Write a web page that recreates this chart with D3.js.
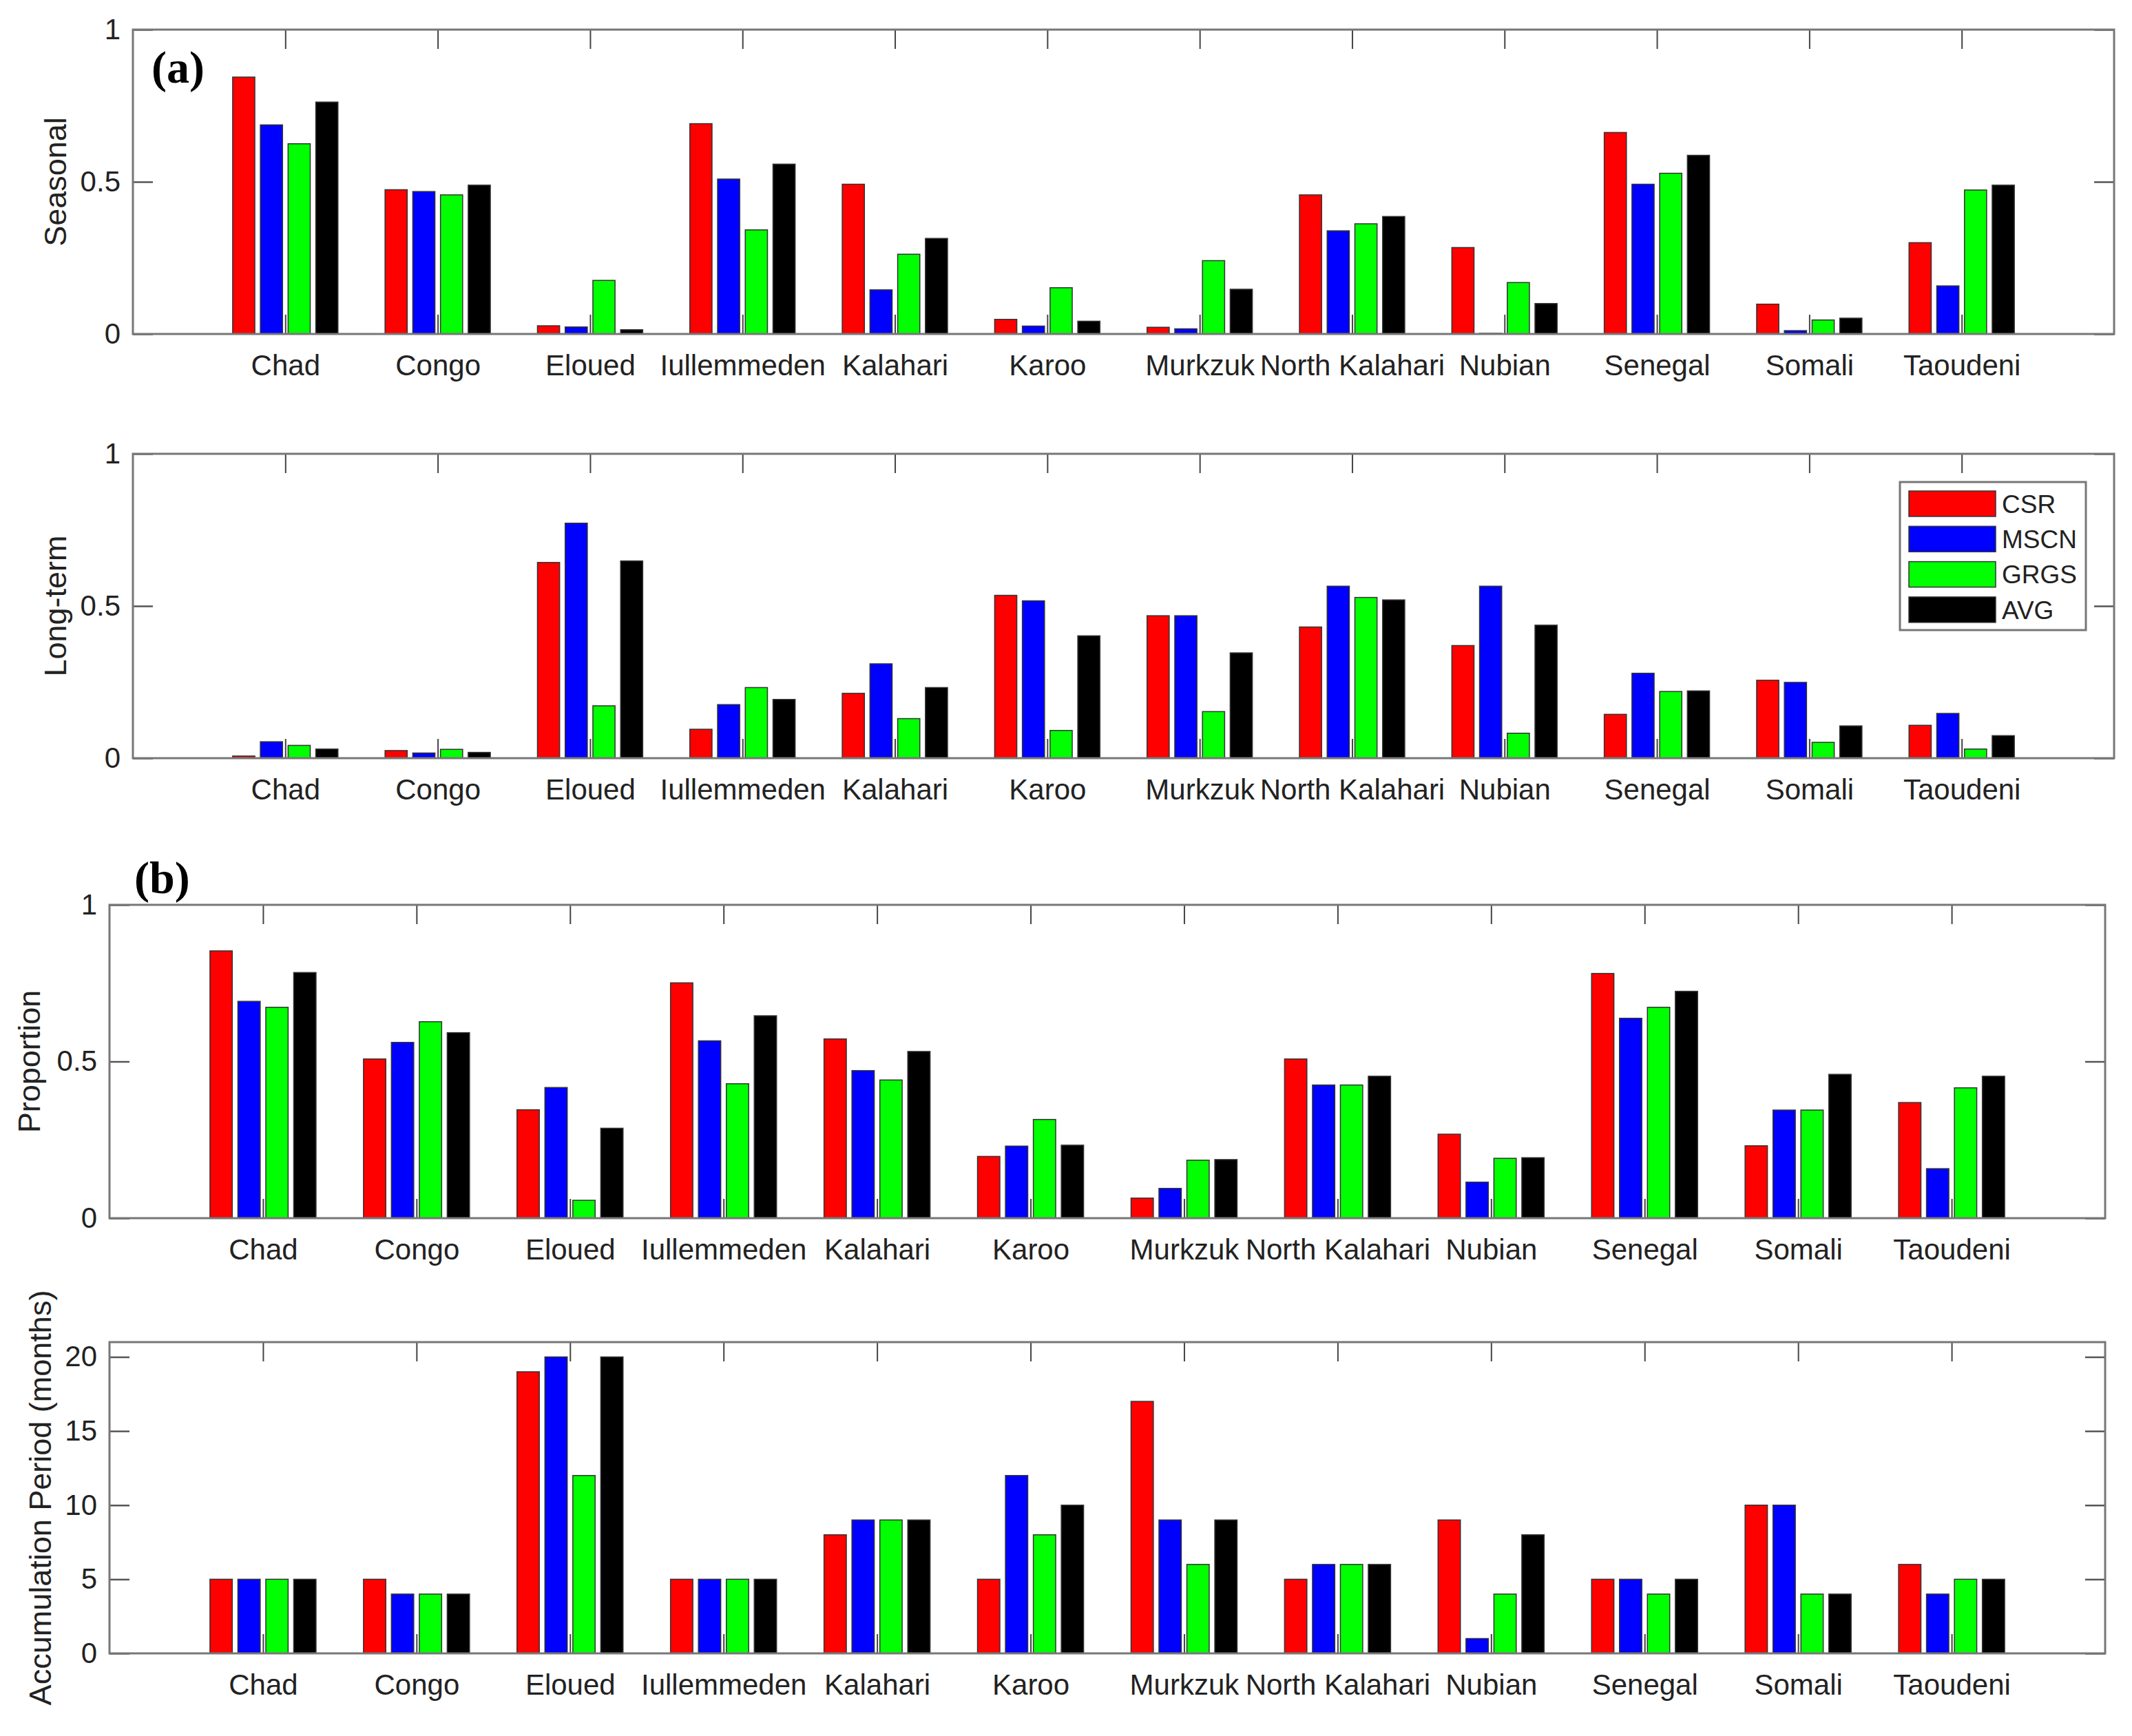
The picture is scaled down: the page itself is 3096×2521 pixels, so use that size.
<!DOCTYPE html>
<html>
<head>
<meta charset="utf-8">
<script src="https://cdn.jsdelivr.net/npm/d3@7"></script>
<style>
  body { margin: 0; background: #fff; }
  svg { display: block; }
  .tick text { font-family: "Liberation Sans", Arial, sans-serif; fill: #222; }
</style>
</head>
<body>
<div id="chart"></div>
<script>
var basins = ["Chad", "Congo", "Eloued", "Iullemmeden", "Kalahari", "Karoo",
              "Murkzuk", "North Kalahari", "Nubian", "Senegal", "Somali", "Taoudeni"];
var series = ["CSR", "MSCN", "GRGS", "AVG"];
var colors = ["#ff0000", "#0000ff", "#00ff00", "#000000"];

// (a) seasonal
var seasonalCSR  = [0.844, 0.474, 0.027, 0.691, 0.492, 0.048, 0.022, 0.457, 0.284, 0.662, 0.098, 0.300];
var seasonalMSCN = [0.687, 0.468, 0.023, 0.509, 0.145, 0.026, 0.017, 0.339, 0.002, 0.492, 0.011, 0.158];
var seasonalGRGS = [0.625, 0.457, 0.176, 0.342, 0.262, 0.152, 0.241, 0.362, 0.169, 0.528, 0.046, 0.473];
var seasonalAVG  = [0.762, 0.489, 0.014, 0.558, 0.314, 0.042, 0.147, 0.386, 0.100, 0.587, 0.052, 0.489];

// (a) long-term
var longCSR  = [0.007, 0.025, 0.643, 0.095, 0.213, 0.535, 0.468, 0.431, 0.370, 0.144, 0.256, 0.108];
var longMSCN = [0.054, 0.017, 0.772, 0.176, 0.310, 0.517, 0.468, 0.565, 0.565, 0.279, 0.249, 0.147];
var longGRGS = [0.042, 0.029, 0.172, 0.232, 0.130, 0.091, 0.153, 0.528, 0.082, 0.219, 0.052, 0.030];
var longAVG  = [0.030, 0.019, 0.648, 0.193, 0.232, 0.402, 0.346, 0.520, 0.437, 0.221, 0.106, 0.074];

// (b) proportion
var propCSR  = [0.853, 0.508, 0.346, 0.751, 0.572, 0.197, 0.064, 0.508, 0.268, 0.781, 0.231, 0.369];
var propMSCN = [0.692, 0.561, 0.417, 0.566, 0.471, 0.230, 0.095, 0.425, 0.115, 0.638, 0.345, 0.158];
var propGRGS = [0.673, 0.627, 0.057, 0.429, 0.441, 0.315, 0.185, 0.425, 0.191, 0.673, 0.345, 0.416];
var propAVG  = [0.784, 0.592, 0.287, 0.646, 0.532, 0.233, 0.187, 0.453, 0.193, 0.724, 0.459, 0.453];

// (b) accumulation period (months)
var accCSR  = [5, 5, 19, 5, 8, 5, 17, 5, 9, 5, 10, 6];
var accMSCN = [5, 4, 20, 5, 9, 12, 9, 6, 1, 5, 10, 4];
var accGRGS = [5, 4, 12, 5, 9, 8, 6, 6, 4, 4, 4, 5];
var accAVG  = [5, 4, 20, 5, 9, 10, 9, 6, 8, 5, 4, 5];

var unitTicks = [0, 0.5, 1];
var monthTicks = [0, 5, 10, 15, 20];

var W = 3096, H = 2521;
var svg = d3.select("#chart").append("svg")
    .attr("width", W)
    .attr("height", H);
svg.append("rect").attr("width", W).attr("height", H).attr("fill", "#fff");

var panels = [
    {left: 193, right: 3070, top: 43,   bottom: 485,  ymax: 1,  ticks: unitTicks,  label: "Seasonal",   labelX: 80,
     values: [seasonalCSR, seasonalMSCN, seasonalGRGS, seasonalAVG]},
    {left: 193, right: 3070, top: 659,  bottom: 1101, ymax: 1,  ticks: unitTicks,  label: "Long-term",  labelX: 80,
     values: [longCSR, longMSCN, longGRGS, longAVG], legend: true},
    {left: 159, right: 3057, top: 1314, bottom: 1769, ymax: 1,  ticks: unitTicks,  label: "Proportion", labelX: 42,
     values: [propCSR, propMSCN, propGRGS, propAVG]},
    {left: 159, right: 3057, top: 1949, bottom: 2401, ymax: 21, ticks: monthTicks, label: "Accumulation Period (months)", labelX: 58,
     values: [accCSR, accMSCN, accGRGS, accAVG]}
];

// grouped bar geometry (matlab style)
var nb = series.length;
var groupWidth = Math.min(0.8, nb / (nb + 1.5));
var pitch = groupWidth / nb;
var barW = pitch * 0.8;
var idx = d3.range(1, basins.length + 1);

panels.forEach(drawPanel);

function drawPanel(p) {
    var x = d3.scaleLinear().domain([0, 13]).range([p.left, p.right]);
    var y = d3.scaleLinear().domain([0, p.ymax]).range([p.bottom, p.top]);
    var g = svg.append("g");

    // x axis first so bars sit over the inner ticks
    var xa = g.append("g")
        .attr("transform", "translate(0," + p.bottom + ")")
        .call(d3.axisBottom(x).tickValues(idx).tickSize(-28).tickPadding(30)
              .tickFormat(function (i) { return basins[i - 1]; }));
    xa.select(".domain").remove();
    xa.selectAll(".tick line").attr("stroke", "#444").attr("stroke-width", 2);
    xa.selectAll(".tick text").attr("font-size", 42);

    series.forEach(function (s, j) {
        g.append("g").selectAll("rect")
            .data(p.values[j])
            .join("rect")
            .attr("x", function (d, i) { return x(i + 1 + (j - 1.5) * pitch - barW / 2); })
            .attr("width", x(barW) - x(0))
            .attr("y", function (d) { return y(d); })
            .attr("height", function (d) { return y(0) - y(d); })
            .attr("fill", colors[j])
            .attr("stroke", "#333")
            .attr("stroke-width", 1.5);
    });

    var top = g.append("g")
        .attr("transform", "translate(0," + p.top + ")")
        .call(d3.axisTop(x).tickValues(idx).tickSize(-28).tickFormat(""));
    top.select(".domain").remove();
    top.selectAll(".tick line").attr("stroke", "#444").attr("stroke-width", 2);

    var ya = g.append("g")
        .attr("transform", "translate(" + p.left + ",0)")
        .call(d3.axisLeft(y).tickValues(p.ticks).tickSize(-29).tickPadding(18)
              .tickFormat(function (d) { return String(d); }));
    ya.select(".domain").remove();
    ya.selectAll(".tick line").attr("stroke", "#555").attr("stroke-width", 2.5);
    ya.selectAll(".tick text").attr("font-size", 42);

    var yr = g.append("g")
        .attr("transform", "translate(" + p.right + ",0)")
        .call(d3.axisRight(y).tickValues(p.ticks).tickSize(-29).tickFormat(""));
    yr.select(".domain").remove();
    yr.selectAll(".tick line").attr("stroke", "#555").attr("stroke-width", 2.5);

    // box
    g.append("rect")
        .attr("x", p.left).attr("y", p.top)
        .attr("width", p.right - p.left).attr("height", p.bottom - p.top)
        .attr("fill", "none")
        .attr("stroke", "#777")
        .attr("stroke-width", 3);

    g.append("text")
        .attr("transform", "translate(" + p.labelX + "," + ((p.top + p.bottom) / 2) + ") rotate(-90)")
        .attr("text-anchor", "middle")
        .attr("dy", "0.35em")
        .attr("font-family", "Liberation Sans, Arial, sans-serif")
        .attr("font-size", 45)
        .attr("fill", "#222")
        .text(p.label);

    if (p.legend) drawLegend(g);
}

function drawLegend(g) {
    var lg = g.append("g").attr("transform", "translate(2759,700)");
    lg.append("rect")
        .attr("width", 270).attr("height", 215)
        .attr("fill", "#fff")
        .attr("stroke", "#777")
        .attr("stroke-width", 3);
    var rows = lg.selectAll(".row")
        .data(series)
        .join("g")
        .attr("transform", function (d, i) { return "translate(13," + (13 + i * 51.3) + ")"; });
    rows.append("rect")
        .attr("width", 126).attr("height", 37)
        .attr("fill", function (d, i) { return colors[i]; })
        .attr("stroke", "#333")
        .attr("stroke-width", 1.5);
    rows.append("text")
        .attr("x", 135).attr("y", 18.5)
        .attr("dy", "0.36em")
        .attr("font-family", "Liberation Sans, Arial, sans-serif")
        .attr("font-size", 37)
        .attr("fill", "#222")
        .text(function (d) { return d; });
}

// panel tags
svg.append("text")
    .attr("x", 220).attr("y", 120)
    .attr("font-family", "Liberation Serif, Times New Roman, serif")
    .attr("font-weight", "bold")
    .attr("font-size", 66)
    .text("(a)");
svg.append("text")
    .attr("x", 195).attr("y", 1297)
    .attr("font-family", "Liberation Serif, Times New Roman, serif")
    .attr("font-weight", "bold")
    .attr("font-size", 66)
    .text("(b)");
</script>
</body>
</html>
